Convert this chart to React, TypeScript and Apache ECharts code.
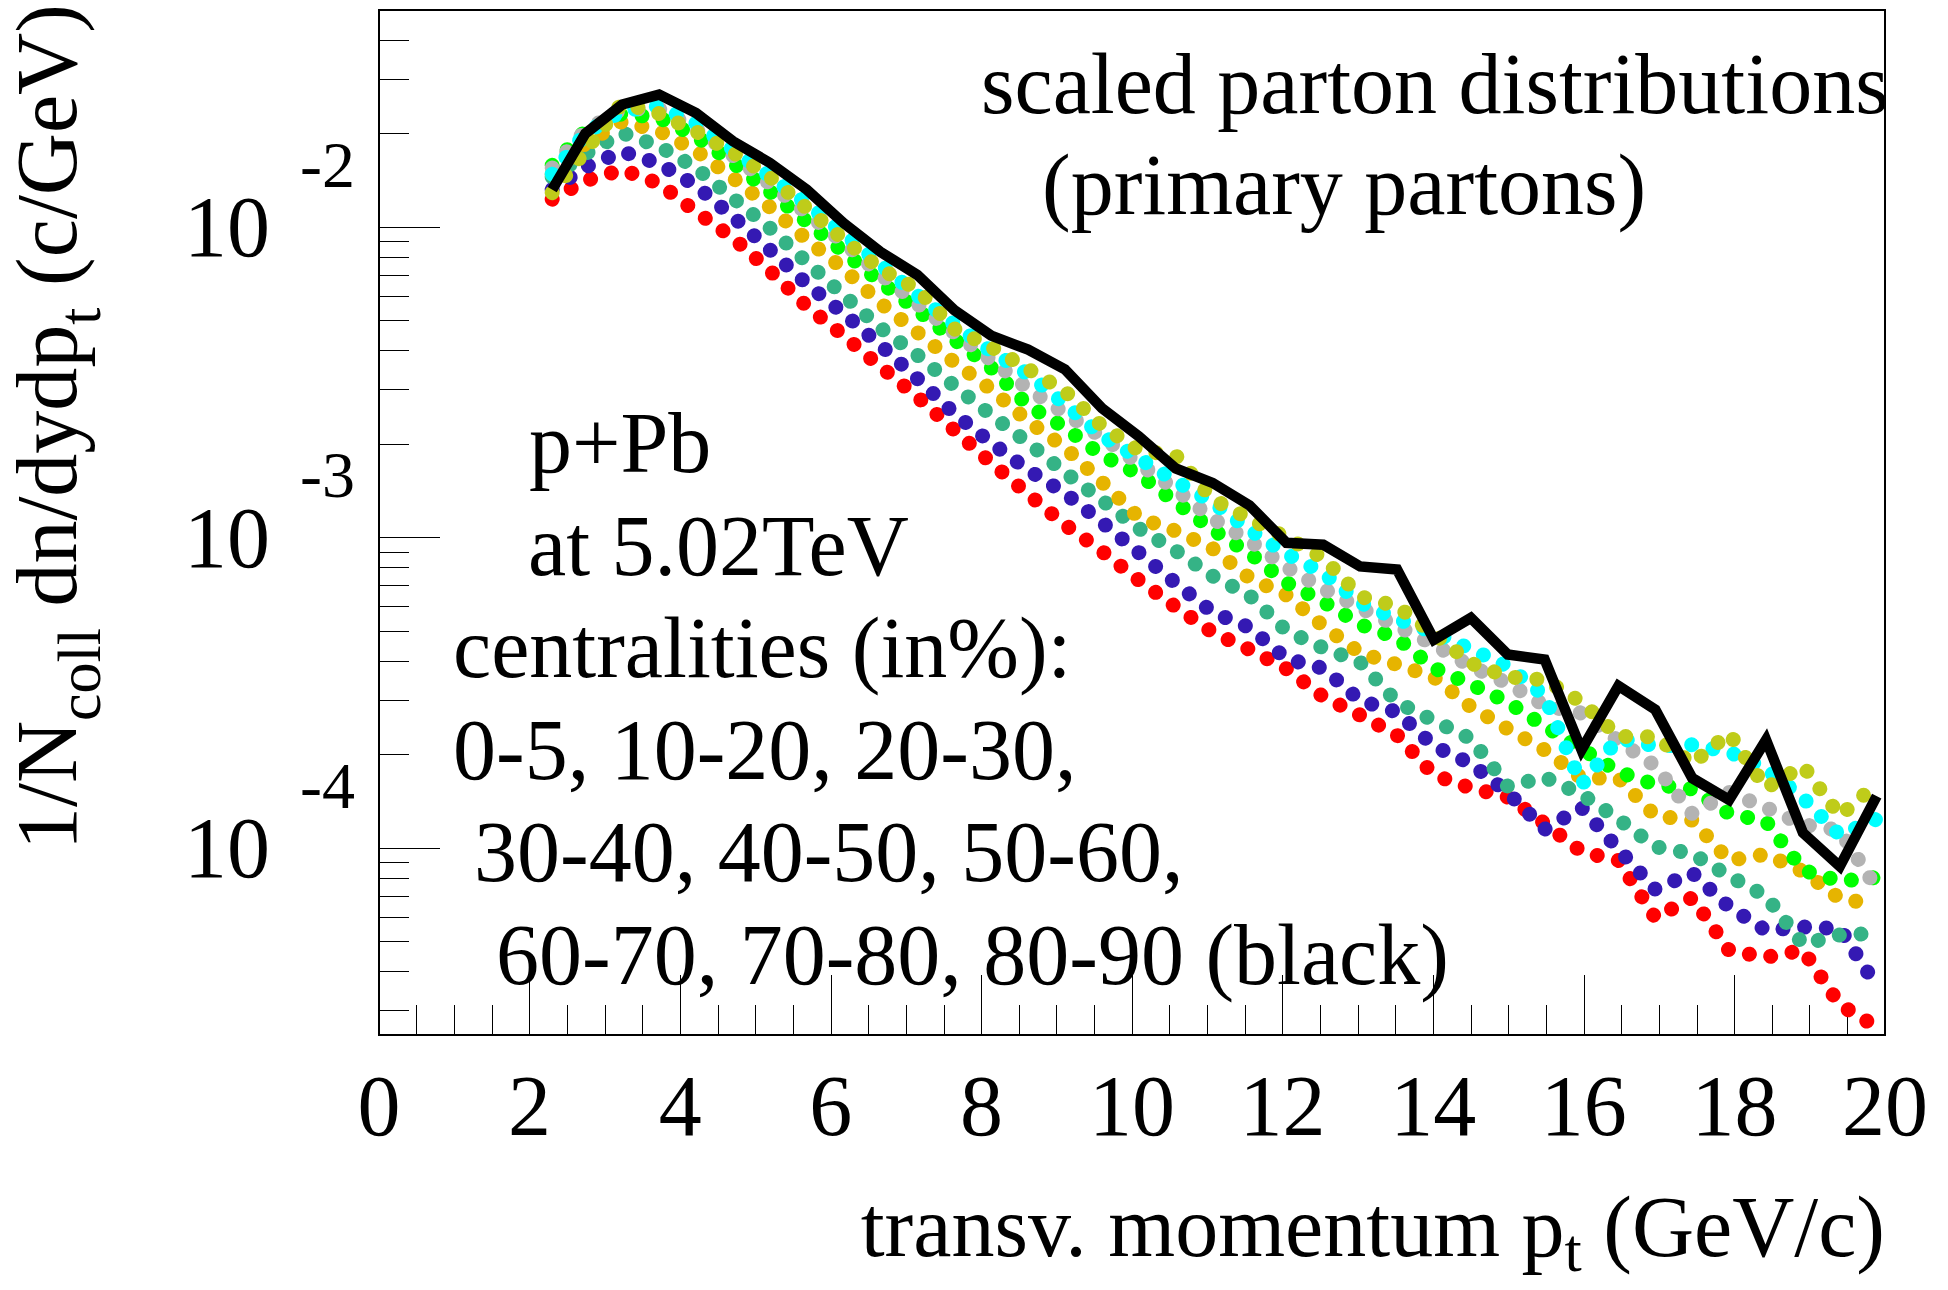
import React, { useEffect, useRef } from "react";
import * as echarts from "echarts";

// transverse momentum grid (GeV/c)
const pt = [2.3, 2.74, 3.23, 3.72, 4.21, 4.7, 5.19, 5.68, 6.17, 6.66, 7.15, 7.64, 8.13, 8.62, 9.11, 9.6, 10.09, 10.58, 11.07, 11.56, 12.05, 12.54, 13.03, 13.52, 14.01, 14.5, 14.99, 15.48, 15.97, 16.46, 16.95, 17.44, 17.93, 18.42, 18.91, 19.4, 19.89];

// 1/Ncoll dn/dydpt per centrality class
const c0to5 = [1.23e-2, 1.41e-2, 1.53e-2, 1.38e-2, 1.12e-2, 9.23e-3, 7.24e-3, 5.56e-3, 4.47e-3, 3.55e-3, 2.84e-3, 2.22e-3, 1.74e-3, 1.38e-3, 1.1e-3, 9.04e-4, 7.29e-4, 5.98e-4, 4.95e-4, 4.36e-4, 3.78e-4, 3.07e-4, 2.68e-4, 2.31e-4, 1.72e-4, 1.56e-4, 1.46e-4, 1.2e-4, 9.73e-5, 9.12e-5, 5.96e-5, 6.92e-5, 4.68e-5, 4.45e-5, 4.69e-5, 3.13e-5, 2.65e-5];
const c10to20 = [1.32e-2, 1.56e-2, 1.75e-2, 1.6e-2, 1.36e-2, 1.08e-2, 8.45e-3, 6.56e-3, 5.27e-3, 4.16e-3, 3.25e-3, 2.51e-3, 2.02e-3, 1.65e-3, 1.39e-3, 1.12e-3, 8.95e-4, 7.13e-4, 5.75e-4, 5.13e-4, 4.07e-4, 3.79e-4, 2.99e-4, 2.74e-4, 2.13e-4, 1.87e-4, 1.51e-4, 1.15e-4, 1.35e-4, 9.91e-5, 7.36e-5, 8.32e-5, 6.46e-5, 5.43e-5, 5.57e-5, 5.5e-5, 3.59e-5];
const c20to30 = [1.45e-2, 1.72e-2, 2.01e-2, 1.82e-2, 1.55e-2, 1.24e-2, 9.93e-3, 7.71e-3, 6.03e-3, 4.73e-3, 3.87e-3, 3.08e-3, 2.48e-3, 2.02e-3, 1.62e-3, 1.32e-3, 1.07e-3, 9.08e-4, 7.52e-4, 6.52e-4, 5.01e-4, 4.41e-4, 3.97e-4, 2.95e-4, 2.57e-4, 2.25e-4, 1.58e-4, 1.69e-4, 1.49e-4, 1.24e-4, 1.01e-4, 9.59e-5, 8.13e-5, 7.0e-5, 4.9e-5, 5.25e-5, 5.31e-5];
const c30to40 = [1.48e-2, 1.86e-2, 2.19e-2, 2.04e-2, 1.76e-2, 1.44e-2, 1.16e-2, 9.12e-3, 7.33e-3, 5.69e-3, 4.58e-3, 3.67e-3, 3.0e-3, 2.37e-3, 1.95e-3, 1.51e-3, 1.16e-3, 1.05e-3, 9.23e-4, 7.41e-4, 6.53e-4, 5.19e-4, 4.25e-4, 3.9e-4, 3.55e-4, 2.85e-4, 2.42e-4, 2.07e-4, 1.68e-4, 1.68e-4, 1.27e-4, 1.23e-4, 9.12e-5, 9.55e-5, 8.41e-5, 6.87e-5, 6.58e-5];
const c40to50 = [1.58e-2, 2.04e-2, 2.32e-2, 2.25e-2, 1.96e-2, 1.61e-2, 1.3e-2, 1.04e-2, 8.32e-3, 6.65e-3, 5.4e-3, 4.34e-3, 3.52e-3, 2.66e-3, 2.26e-3, 1.84e-3, 1.6e-3, 1.3e-3, 1.06e-3, 8.91e-4, 7.16e-4, 6.22e-4, 5.25e-4, 4.75e-4, 3.8e-4, 3.37e-4, 2.95e-4, 2.47e-4, 2.09e-4, 1.76e-4, 1.6e-4, 1.55e-4, 1.29e-4, 1.22e-4, 8.49e-5, 7.82e-5, 8.04e-5];
const c50to60 = [1.55e-2, 2.04e-2, 2.4e-2, 2.4e-2, 2.07e-2, 1.7e-2, 1.38e-2, 1.11e-2, 8.91e-3, 7.05e-3, 5.66e-3, 4.57e-3, 3.73e-3, 3.02e-3, 2.51e-3, 2.11e-3, 1.73e-3, 1.43e-3, 1.15e-3, 9.77e-4, 8.04e-4, 6.84e-4, 5.94e-4, 5.19e-4, 4.52e-4, 3.85e-4, 3.39e-4, 2.88e-4, 2.72e-4, 2.21e-4, 1.84e-4, 1.29e-4, 1.51e-4, 1.35e-4, 1.19e-4, 1.14e-4, 7.41e-5];
const c60to70 = [1.48e-2, 2.0e-2, 2.37e-2, 2.45e-2, 2.16e-2, 1.78e-2, 1.46e-2, 1.19e-2, 9.55e-3, 7.59e-3, 6.03e-3, 4.86e-3, 3.98e-3, 3.36e-3, 2.69e-3, 2.13e-3, 1.8e-3, 1.52e-3, 1.3e-3, 1.06e-3, 8.87e-4, 7.69e-4, 6.17e-4, 5.47e-4, 4.95e-4, 4.37e-4, 3.85e-4, 3.09e-4, 1.6e-4, 2.26e-4, 2.13e-4, 2.15e-4, 2.04e-4, 1.8e-4, 1.45e-4, 1.1e-4, 1.24e-4];
const c70to80 = [1.29e-2, 1.76e-2, 2.51e-2, 2.32e-2, 2.03e-2, 1.74e-2, 1.45e-2, 1.15e-2, 9.12e-3, 7.33e-3, 6.31e-3, 4.7e-3, 4.11e-3, 3.49e-3, 2.96e-3, 2.29e-3, 1.91e-3, 1.84e-3, 1.33e-3, 1.15e-3, 1.0e-3, 8.59e-4, 6.46e-4, 6.0e-4, 4.9e-4, 3.94e-4, 3.56e-4, 3.48e-4, 2.95e-4, 2.29e-4, 2.28e-4, 1.87e-4, 2.34e-4, 1.56e-4, 1.84e-4, 1.27e-4, 1.61e-4];
const c80to90 = [1.32e-2, 2.0e-2, 2.48e-2, 2.67e-2, 2.33e-2, 1.89e-2, 1.61e-2, 1.32e-2, 1.03e-2, 8.32e-3, 7.01e-3, 5.4e-3, 4.47e-3, 4.03e-3, 3.48e-3, 2.61e-3, 2.12e-3, 1.67e-3, 1.5e-3, 1.27e-3, 9.62e-4, 9.48e-4, 8.07e-4, 7.89e-4, 4.69e-4, 5.51e-4, 4.2e-4, 4.05e-4, 2.07e-4, 3.33e-4, 2.79e-4, 1.68e-4, 1.43e-4, 2.23e-4, 1.12e-4, 8.73e-5, 1.47e-4];

const centralityNames = ["0-5", "10-20", "20-30", "30-40", "40-50", "50-60", "60-70", "70-80", "80-90"];
const centralityColors = ["#ff0000", "#3419b3", "#35b386", "#e6b400", "#00ff00", "#b3b3b3", "#00ffff", "#bfcc1a", "#000000"];
const centralityValues = [c0to5, c10to20, c20to30, c30to40, c40to50, c50to60, c60to70, c70to80, c80to90];

// axis ticks
const xTickStep = 2;
const yMajorTicks = [1e-4, 1e-3, 1e-2];
const yMinorTicks = [3e-5, 4e-5, 5e-5, 6e-5, 7e-5, 8e-5, 9e-5, 2e-4, 3e-4, 4e-4, 5e-4, 6e-4, 7e-4, 8e-4, 9e-4, 2e-3, 3e-3, 4e-3, 5e-3, 6e-3, 7e-3, 8e-3, 9e-3, 2e-2, 3e-2, 4e-2];
const yMin = 2.5e-5;
const yMax = 5e-2;

const FONT = "Liberation Serif";

export default function App() {
  const ref = useRef<HTMLDivElement>(null);

  useEffect(() => {
    const chart = echarts.init(ref.current as HTMLDivElement, null, { renderer: "svg" });

    const series: any[] = centralityValues.map((vals, si) => {
      const isBlack = si === centralityValues.length - 1;
      return {
        name: centralityNames[si],
        type: "line",
        xAxisIndex: 0,
        yAxisIndex: 0,
        data: pt.map((x, i) => [x, vals[i]]),
        showSymbol: false,
        symbol: "none",
        smooth: false,
        clip: true,
        lineStyle: isBlack
          ? { color: centralityColors[si], width: 10.5, type: "solid", join: "miter", miterLimit: 10, cap: "butt" }
          : { color: centralityColors[si], width: 15, type: [0.001, 21.7], cap: "round", join: "round" },
        z: 2 + si,
      };
    });

    const textBase = { fill: "#000", fontSize: 86, fontFamily: FONT };
    const mkText = (text: string, x: number, baseline: number) => ({
      type: "text",
      x,
      y: baseline - 29,
      style: { ...textBase, text, align: "left", verticalAlign: "middle", textAlign: "left", textVerticalAlign: "middle" },
    });
    const yTitleRich = {
      a: { fontSize: 86, lineHeight: 86, fontFamily: FONT, fill: "#000", color: "#000" },
      s: { fontSize: 62, fontFamily: FONT, height: 22, verticalAlign: "bottom", fill: "#000", color: "#000" },
    };
    const xTitleRich = {
      a: { fontSize: 86, lineHeight: 86, fontFamily: FONT, fill: "#000", color: "#000" },
      s: { fontSize: 62, fontFamily: FONT, height: 40, verticalAlign: "bottom", fill: "#000", color: "#000" },
    };

    const option: any = {
      animation: false,
      backgroundColor: "#ffffff",
      grid: {
        left: 379,
        top: 10,
        width: 1506,
        height: 1025,
        show: true,
        borderColor: "#000",
        borderWidth: 2,
        backgroundColor: "transparent",
        containLabel: false,
      },
      xAxis: {
        type: "value",
        min: 0,
        max: 20,
        interval: xTickStep,
        axisLine: { show: true, onZero: false, lineStyle: { color: "#000", width: 2 } },
        axisTick: { show: true, inside: true, length: 60, lineStyle: { color: "#000", width: 1 } },
        minorTick: { show: true, splitNumber: 4, length: 30, lineStyle: { color: "#000", width: 1 } },
        axisLabel: { show: true, margin: 28, fontSize: 86, fontFamily: FONT, color: "#000" },
        splitLine: { show: false },
        minorSplitLine: { show: false },
      },
      yAxis: [
        {
          type: "log",
          logBase: 10,
          min: yMin,
          max: yMax,
          position: "left",
          axisLine: { show: true, onZero: false, lineStyle: { color: "#000", width: 2 } },
          axisTick: { show: true, inside: true, length: 61, customValues: yMajorTicks, lineStyle: { color: "#000", width: 1 } },
          axisLabel: {
            show: true,
            customValues: yMajorTicks,
            margin: 24,
            color: "#000",
            fontFamily: FONT,
            formatter: (v: number) => {
              const e = Math.round(Math.log10(v));
              return `{e|${e}}\n{b|10}\n{s| }`;
            },
            rich: {
              e: { fontSize: 66, lineHeight: 63, fontFamily: FONT, color: "#000" },
              b: { fontSize: 86, lineHeight: 63, fontFamily: FONT, color: "#000", padding: [0, 85, 0, 0] },
              s: { fontSize: 10, lineHeight: 63, fontFamily: FONT, color: "#000" },
            },
          },
          splitLine: { show: false },
        },
        {
          type: "log",
          logBase: 10,
          min: yMin,
          max: yMax,
          position: "left",
          offset: 0,
          axisLine: { show: false },
          axisTick: { show: true, inside: true, length: 30, customValues: yMinorTicks, lineStyle: { color: "#000", width: 1 } },
          axisLabel: { show: false },
          splitLine: { show: false },
        },
      ],
      series,
      graphic: [
        mkText("scaled parton distributions", 981, 113),
        mkText("(primary partons)", 1042, 214),
        mkText("p+Pb", 529, 472),
        mkText("at 5.02TeV", 528, 575),
        mkText("centralities (in%):", 453, 677),
        mkText("0-5, 10-20, 20-30,", 453, 779),
        mkText("30-40, 40-50, 50-60,", 474, 881),
        mkText("60-70, 70-80, 80-90 (black)", 496, 984),
        {
          type: "text",
          x: 1885,
          y: 1184,
          style: {
            text: "{a|transv. momentum p}{s|t}{a| (GeV/c)}",
            rich: xTitleRich,
            fill: "#000",
            fontSize: 86,
            fontFamily: FONT,
            align: "right",
            verticalAlign: "top",
            textAlign: "right",
            textVerticalAlign: "top",
          },
        },
        {
          type: "text",
          x: 4,
          y: 850,
          rotation: Math.PI / 2,
          style: {
            text: "{a|1/N}{s|coll}{a| dn/dydp}{s|t}{a| (c/GeV)}",
            rich: yTitleRich,
            fill: "#000",
            fontSize: 86,
            fontFamily: FONT,
            align: "left",
            verticalAlign: "top",
            textAlign: "left",
            textVerticalAlign: "top",
          },
        },
      ],
    };

    chart.setOption(option);
    return () => chart.dispose();
  }, []);

  return (
    <div
      ref={ref}
      style={{ position: "fixed", left: 0, top: 0, width: 1948, height: 1290, background: "#ffffff" }}
    />
  );
}
